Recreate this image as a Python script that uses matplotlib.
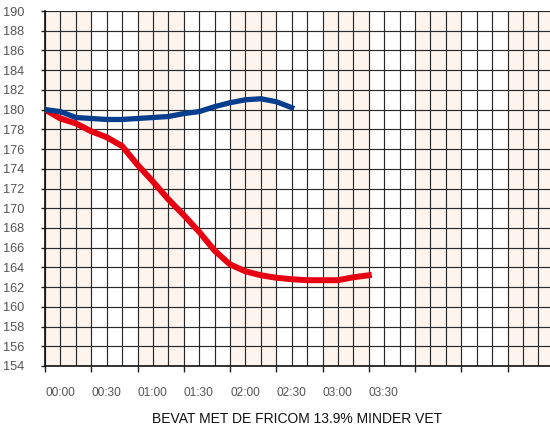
import numpy as np
import matplotlib.pyplot as plt

# tijd in minuten (stappen van 10 min)
tijd_blauw = [0, 10, 20, 30, 40, 50, 60, 70, 80, 90, 100, 110, 120, 130, 140, 150, 160]
temp_blauw = [180.0, 179.8, 179.2, 179.1, 179.0, 179.0, 179.1, 179.2, 179.3, 179.6, 179.8,
              180.3, 180.7, 181.0, 181.1, 180.8, 180.2]

tijd_rood = [0, 10, 20, 30, 40, 50, 60, 70, 80, 90, 100, 110, 120, 130, 140, 150, 160,
             170, 180, 190, 200, 210]
temp_rood = [180.0, 179.1, 178.6, 177.8, 177.2, 176.3, 174.4, 172.7, 170.9, 169.3, 167.6,
             165.7, 164.3, 163.6, 163.2, 162.95, 162.8, 162.7, 162.7, 162.7, 163.0, 163.2]

tick_labels = ['00:00', '00:30', '01:00', '01:30', '02:00', '02:30', '03:00', '03:30']
titel = 'BEVAT MET DE FRICOM 13.9% MINDER VET'

plt.rcParams['font.family'] = ['Liberation Sans', 'DejaVu Sans']

fig = plt.figure(figsize=(5.5, 4.32), dpi=100)
ax = fig.add_axes([45 / 550, 1 - 366 / 432, 1 - 45 / 550, 355 / 432])

# banden van 30 minuten
for start in range(0, 330, 60):
    ax.axvspan(start, start + 30, color='#FDF4EE', lw=0, zorder=0)

ax.set_xlim(0, 327.5)
ax.set_ylim(154, 190)

ticks_x = np.arange(0, 330, 30)
ax.set_xticks(np.arange(0, 330, 10), minor=True)
ax.set_xticks(ticks_x)
ax.set_xticklabels(tick_labels + [''] * (len(ticks_x) - len(tick_labels)), ha='left')
ax.set_yticks(np.arange(154, 191, 2))

ax.grid(True, which='both', axis='x', color='#2a2a2a', lw=0.85, zorder=1)
ax.grid(True, which='major', axis='y', color='#2a2a2a', lw=0.85, zorder=1)

ax.tick_params(axis='x', which='major', direction='out', length=4, width=1,
               color='#222222', labelcolor='#555555', labelsize=8.6, pad=11)
ax.tick_params(axis='x', which='minor', length=0)
ax.tick_params(axis='y', direction='out', length=3, width=1, color='#222222',
               labelcolor='#555555', labelsize=9.2, pad=12)

for s in ['top', 'right']:
    ax.spines[s].set_visible(False)
for s in ['left', 'bottom']:
    ax.spines[s].set_color('#111111')
    ax.spines[s].set_linewidth(1.2)

ax.plot(tijd_rood, temp_rood, color='#E60012', lw=4.3, zorder=3, solid_joinstyle='round')
ax.plot(tijd_blauw, temp_blauw, color='#063E8E', lw=3.8, zorder=4, solid_joinstyle='round')

fig.text(297 / 550, 1 - 419 / 432, titel, ha='center', va='center', fontsize=10.0,
         color='#111111')

fig.savefig('out.png', dpi=100)
